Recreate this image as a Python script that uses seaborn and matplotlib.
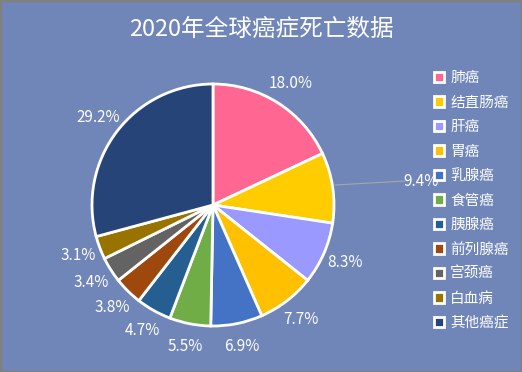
import matplotlib
matplotlib.use("Agg")
import matplotlib.pyplot as plt
import seaborn as sns
from matplotlib.patches import Patch, Rectangle

sns.set_style("white")
plt.rcParams['font.family'] = ['Noto Sans CJK SC', 'DejaVu Sans']

categories = ["肺癌", "结直肠癌", "肝癌", "胃癌", "乳腺癌", "食管癌", "胰腺癌", "前列腺癌", "宫颈癌", "白血病", "其他癌症"]
values = [18.0, 9.4, 8.3, 7.7, 6.9, 5.5, 4.7, 3.8, 3.4, 3.1, 29.2]
colors = ["#FF6692", "#FFCC00", "#9999FF", "#FFC000", "#4472C4", "#70AD47",
          "#255E91", "#9E480E", "#636363", "#997300", "#264478"]
title = "2020年全球癌症死亡数据"

bg = "#7086B9"
W, H = 522, 372
fig = plt.figure(figsize=(W / 100, H / 100), dpi=100)
fig.patch.set_facecolor(bg)
ax = fig.add_axes([0, 0, 1, 1])
ax.set_facecolor(bg)

cx, cy, r = 213, H - 205, 121
wedges, texts, autotexts = ax.pie(
    values, colors=colors, startangle=90, counterclock=False,
    center=(cx, cy), radius=r, autopct="%.1f%%", pctdistance=1.19,
    wedgeprops=dict(edgecolor="white", linewidth=2),
    textprops=dict(color="white", fontsize=11), frame=True)
ax.set_xlim(0, W)
ax.set_ylim(0, H)
ax.set_aspect("equal")
ax.axis("off")

# label for 9.4% with leader line
autotexts[1].set_position((421, H - 182))
autotexts[1].set_ha("center")
ax.plot([335, 405], [H - 185, H - 181], color="#A6A6A6", lw=0.8)

ax.text(W / 2, H - 29, title, ha="center", va="center", color="white", fontsize=17)

handles = [Patch(facecolor=c, edgecolor="white", linewidth=2) for c in colors]
leg = fig.legend(handles, categories, loc="upper left", bbox_to_anchor=(421 / W, 1 - 58 / H),
                 frameon=False, fontsize=10.5, labelcolor="white", handlelength=0.7,
                 handleheight=0.7, handletextpad=0.4, labelspacing=0.72)

fig.add_artist(Rectangle((0, 0), 1, 1, transform=fig.transFigure, fill=False,
                         edgecolor="#808080", linewidth=2.5))
fig.savefig("out.png", dpi=100, facecolor=bg)
